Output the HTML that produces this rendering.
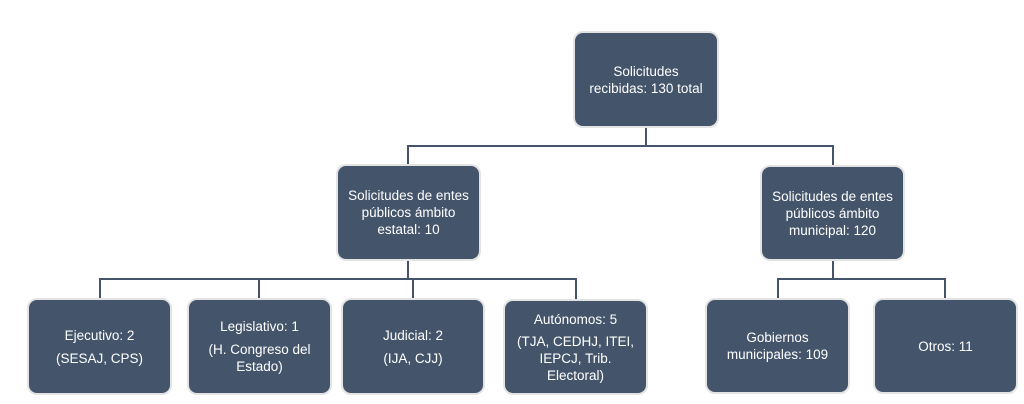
<!DOCTYPE html>
<html><head><meta charset="utf-8"><style>
body{margin:0;width:1024px;height:404px;background:#fff;position:relative;overflow:hidden;font-family:"Liberation Sans",sans-serif;}
.b{position:absolute;background:#44546a;border-radius:8px;box-shadow:0 0 0 2px #e3e3e3;color:#fff;font-size:13.5px;line-height:17px;text-align:center;display:flex;flex-direction:column;justify-content:center;align-items:center;box-sizing:border-box;padding:0 2px;}
.l{position:absolute;background:#44546a;}
p{margin:0;}
</style></head><body>
<div class="l" style="left:645px;top:126px;width:2px;height:21px"></div>
<div class="l" style="left:407px;top:145px;width:427px;height:2px"></div>
<div class="l" style="left:407px;top:145px;width:2px;height:21px"></div>
<div class="l" style="left:832px;top:145px;width:2px;height:22px"></div>
<div class="l" style="left:407px;top:259px;width:2px;height:21px"></div>
<div class="l" style="left:99px;top:278px;width:477px;height:2px"></div>
<div class="l" style="left:99px;top:278px;width:2px;height:22px"></div>
<div class="l" style="left:258px;top:278px;width:2px;height:22px"></div>
<div class="l" style="left:412px;top:278px;width:2px;height:22px"></div>
<div class="l" style="left:575px;top:278px;width:2px;height:23px"></div>
<div class="l" style="left:832px;top:259px;width:2px;height:21px"></div>
<div class="l" style="left:777px;top:278px;width:169px;height:2px"></div>
<div class="l" style="left:777px;top:278px;width:2px;height:22px"></div>
<div class="l" style="left:944px;top:278px;width:2px;height:22px"></div>

<div class="b" style="left:575px;top:33px;width:142px;height:93px"><p>Solicitudes<br>recibidas: 130 total</p></div>
<div class="b" style="left:338px;top:166px;width:141px;height:93px"><p>Solicitudes de entes<br>públicos ámbito<br>estatal: 10</p></div>
<div class="b" style="left:762px;top:167px;width:141px;height:92px"><p>Solicitudes de entes<br>públicos ámbito<br>municipal: 120</p></div>
<div class="b" style="left:29px;top:300px;width:141px;height:93px"><p>Ejecutivo: 2</p><p style="margin-top:6px">(SESAJ, CPS)</p></div>
<div class="b" style="left:189px;top:300px;width:141px;height:93px"><p>Legislativo: 1</p><p style="margin-top:6px">(H. Congreso del<br>Estado)</p></div>
<div class="b" style="left:343px;top:300px;width:140px;height:93px"><p>Judicial: 2</p><p style="margin-top:6px">(IJA, CJJ)</p></div>
<div class="b" style="left:505px;top:301px;width:141px;height:92px"><p>Autónomos: 5</p><p style="margin-top:5px">(TJA, CEDHJ, ITEI,<br>IEPCJ, Trib.<br>Electoral)</p></div>
<div class="b" style="left:707px;top:300px;width:141px;height:92px"><p>Gobiernos<br>municipales: 109</p></div>
<div class="b" style="left:875px;top:300px;width:141px;height:92px"><p>Otros: 11</p></div>
</body></html>
